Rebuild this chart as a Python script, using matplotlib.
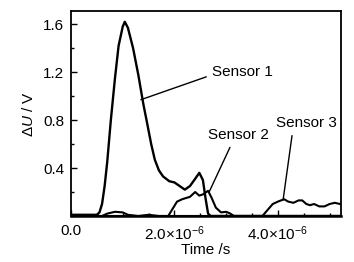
import matplotlib
matplotlib.use("Agg")
import matplotlib.pyplot as plt
import matplotlib.ticker as ticker
import numpy as np

plt.rcParams['font.family'] = ['Liberation Sans', 'DejaVu Sans']
plt.rcParams['mathtext.fontset'] = 'custom'
plt.rcParams['mathtext.rm'] = 'Liberation Sans'
plt.rcParams['mathtext.it'] = 'Liberation Sans:italic'

# tempi in microsecondi, tensioni in V
t1 = [0.0, 0.2, 0.4, 0.5, 0.55, 0.6, 0.65, 0.7, 0.77, 0.85, 0.92, 1.0, 1.04, 1.1,
      1.2, 1.3, 1.4, 1.46, 1.55, 1.62, 1.7, 1.78, 1.9, 2.0, 2.1, 2.2, 2.3, 2.4,
      2.48, 2.55, 2.6, 2.65, 2.7, 5.3]
u1 = [0.01, 0.01, 0.01, 0.01, 0.03, 0.1, 0.25, 0.45, 0.8, 1.15, 1.42, 1.58, 1.62, 1.57,
      1.4, 1.18, 0.93, 0.8, 0.6, 0.47, 0.38, 0.33, 0.29, 0.28, 0.25, 0.22, 0.25, 0.31,
      0.36, 0.3, 0.15, 0.02, 0.0, 0.0]

t2 = [0.0, 0.6, 0.7, 0.85, 1.0, 1.1, 1.3, 1.5, 1.7, 1.88, 1.95, 2.05, 2.15, 2.3, 2.4,
      2.48, 2.55, 2.65, 2.72, 2.8, 2.9, 3.0, 3.08, 3.15, 5.3]
u2 = [0.0, 0.0, 0.02, 0.035, 0.03, 0.01, 0.0, 0.01, 0.0, 0.0, 0.05, 0.12, 0.14, 0.16, 0.2,
      0.17, 0.18, 0.21, 0.15, 0.07, 0.03, 0.035, 0.02, 0.0, 0.0]

t3 = [0.0, 3.7, 3.8, 3.9, 4.0, 4.12, 4.2, 4.3, 4.4, 4.47, 4.55, 4.62, 4.7, 4.8, 4.9,
      5.0, 5.1, 5.2, 5.3]
u3 = [0.0, 0.0, 0.05, 0.1, 0.12, 0.14, 0.12, 0.11, 0.13, 0.13, 0.1, 0.09, 0.1, 0.08, 0.08,
      0.1, 0.11, 0.1, 0.09]

fig = plt.figure(figsize=(3.54, 2.62), dpi=100)
ax = fig.add_axes([0.2006, 0.1756, 0.7627, 0.7824])

for t, u, lw in [(t1, u1, 1.7), (t2, u2, 1.5), (t3, u3, 1.5)]:
    ax.plot(np.array(t) * 1e-6, u, color='black', lw=lw)

ax.set_xlim(0, 5.22e-6)
ax.set_ylim(0, 1.71)

ax.xaxis.set_major_locator(ticker.FixedLocator([0, 2e-6, 4e-6]))
ax.xaxis.set_major_formatter(ticker.FixedFormatter(
    ['0.0', r'$\mathregular{2.0{\times}10^{-6}}$', r'$\mathregular{4.0{\times}10^{-6}}$']))
ax.xaxis.set_minor_locator(ticker.MultipleLocator(0.5e-6))
ax.yaxis.set_major_locator(ticker.FixedLocator([0.4, 0.8, 1.2, 1.6]))
ax.yaxis.set_minor_locator(ticker.MultipleLocator(0.2))
ax.yaxis.set_major_formatter(ticker.FormatStrFormatter('%.1f'))

ax.tick_params(which='both', direction='in', labelsize=11, width=1)
ax.tick_params(axis='x', pad=6)
ax.tick_params(axis='y', pad=5)
ax.tick_params(which='major', length=4)
ax.tick_params(which='minor', length=2.5)
for s in ax.spines.values():
    s.set_linewidth(1.3)
ax.spines['bottom'].set_linewidth(1.8)

ax.set_xlabel('Time /s', fontsize=11, labelpad=0)
ax.set_ylabel(r'$\Delta\mathit{U}$ / V', fontsize=11, labelpad=5)

line = dict(arrowstyle='-', color='black', lw=1, shrinkA=2, shrinkB=0)
ax.annotate('Sensor 1', xy=(1.35e-6, 0.97), xytext=(2.72e-6, 1.2), ha='left', va='center',
            fontsize=11, arrowprops=dict(line, relpos=(0, 0.3)))
ax.annotate('Sensor 2', xy=(2.67e-6, 0.2), xytext=(2.65e-6, 0.675), ha='left', va='center',
            fontsize=11, arrowprops=dict(line, relpos=(0.4, 0)))
ax.annotate('Sensor 3', xy=(4.1e-6, 0.133), xytext=(3.97e-6, 0.775), ha='left', va='center',
            fontsize=11, arrowprops=dict(line, relpos=(0.27, 0)))

fig.savefig('out.png', dpi=100)
